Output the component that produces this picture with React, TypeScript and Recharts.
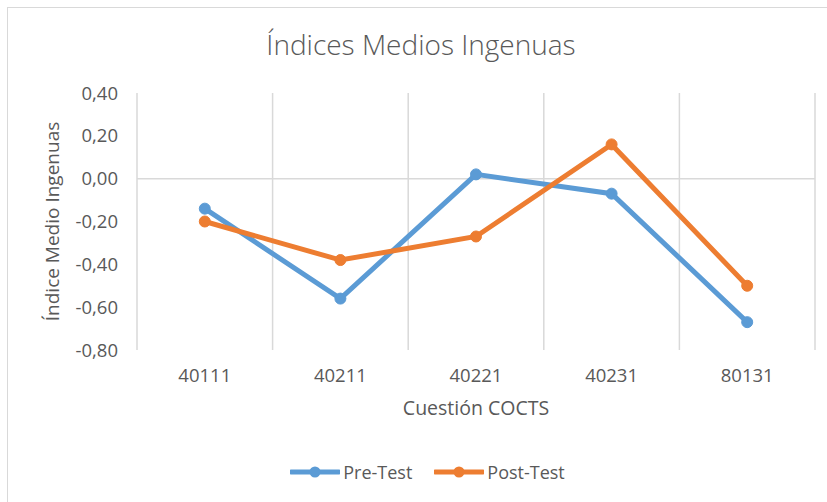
import React from 'react';
import { LineChart, Line, XAxis, YAxis, CartesianGrid, ReferenceLine, Legend } from 'recharts';

const categories = ['40111', '40211', '40221', '40231', '80131'];
const preTest = [-0.14, -0.56, 0.02, -0.07, -0.67];
const postTest = [-0.2, -0.38, -0.27, 0.16, -0.5];
const yTicks = [-0.8, -0.6, -0.4, -0.2, 0, 0.2, 0.4];
const seriesNames = ['Pre-Test', 'Post-Test'];

const BLUE = '#5B9BD5';
const ORANGE = '#ED7D31';
const GRID = '#d9d9d9';
const TEXT = '#595959';
const FONT = '"Open Sans", sans-serif';

const data = categories.map((c, i) => ({ cat: c, pre: preTest[i], post: postTest[i] }));

const fmt = (v: number) => v.toFixed(2).replace('.', ',');

const LegendContent = () => {
  const items = [
    { name: seriesNames[0], color: BLUE },
    { name: seriesNames[1], color: ORANGE },
  ];
  return (
    <div style={{ display: 'flex', justifyContent: 'center', paddingTop: 40, paddingLeft: 40, fontFamily: FONT, fontSize: 18, color: TEXT }}>
      {items.map((it, i) => (
        <div key={it.name} style={{ display: 'flex', alignItems: 'center', marginLeft: i ? 22 : 0 }}>
          <svg width={50} height={14} style={{ marginRight: 3 }}>
            <line x1={1} y1={7} x2={49} y2={7} stroke={it.color} strokeWidth={5} strokeLinecap="round" />
            <circle cx={25} cy={7} r={5.5} fill={it.color} />
          </svg>
          <span>{it.name}</span>
        </div>
      ))}
    </div>
  );
};

export default function App() {
  return (
    <div style={{ position: 'absolute', left: 0, top: 0, width: 827, height: 502, overflow: 'hidden', background: '#fff' }}>
      <div style={{ position: 'absolute', left: 7, top: 7, width: 900, height: 600, border: `1.5px solid ${GRID}` }} />
      <div style={{ position: 'absolute', left: 0, width: 842, top: 25, textAlign: 'center', fontFamily: FONT, fontSize: 28, fontWeight: 300, color: TEXT }}>
        Índices Medios Ingenuas
      </div>
      <div style={{ position: 'absolute', left: 0, top: 0 }}>
        <LineChart width={827} height={502} data={data} margin={{ top: 93, right: 12, left: 0, bottom: 0 }}>
          <CartesianGrid
            horizontal={false}
            vertical
            stroke={GRID}
            strokeWidth={1.5}
            verticalCoordinatesGenerator={({ offset }: any) =>
              categories.map((_, i) => offset.left + (i * offset.width) / categories.length).concat(offset.left + offset.width)
            }
          />
          <XAxis
            dataKey="cat"
            scale="band"
            height={70}
            axisLine={false}
            tickLine={false}
            tickSize={0}
            tickMargin={19}
            tick={{ fill: TEXT, fontSize: 18.5, fontFamily: FONT }}
            label={{ value: 'Cuestión COCTS', position: 'insideBottom', offset: 5, fill: TEXT, fontSize: 19.5, fontFamily: FONT }}
          />
          <YAxis
            width={137}
            domain={[-0.8, 0.4]}
            ticks={yTicks}
            tickFormatter={fmt}
            axisLine={false}
            tickLine={false}
            tickSize={0}
            tickMargin={19}
            tick={{ fill: TEXT, fontSize: 18.5, fontFamily: FONT }}
            label={{
              content: ({ viewBox }: any) => (
                <text
                  x={viewBox.x + 52}
                  y={viewBox.y + viewBox.height / 2}
                  transform={`rotate(-90 ${viewBox.x + 52} ${viewBox.y + viewBox.height / 2})`}
                  textAnchor="middle"
                  dominantBaseline="central"
                  fill={TEXT}
                  fontSize={19}
                  fontFamily={FONT}
                >
                  Índice Medio Ingenuas
                </text>
              ),
            }}
          />
          <ReferenceLine y={0} stroke={GRID} strokeWidth={1.5} />
          <Legend verticalAlign="bottom" height={82} content={<LegendContent />} />
          <Line
            name={seriesNames[0]}
            dataKey="pre"
            stroke={BLUE}
            strokeWidth={5}
            dot={{ r: 5.5, fill: BLUE, stroke: BLUE, strokeWidth: 1 }}
            isAnimationActive={false}
          />
          <Line
            name={seriesNames[1]}
            dataKey="post"
            stroke={ORANGE}
            strokeWidth={5}
            dot={{ r: 5.5, fill: ORANGE, stroke: ORANGE, strokeWidth: 1 }}
            isAnimationActive={false}
          />
        </LineChart>
      </div>
    </div>
  );
}
